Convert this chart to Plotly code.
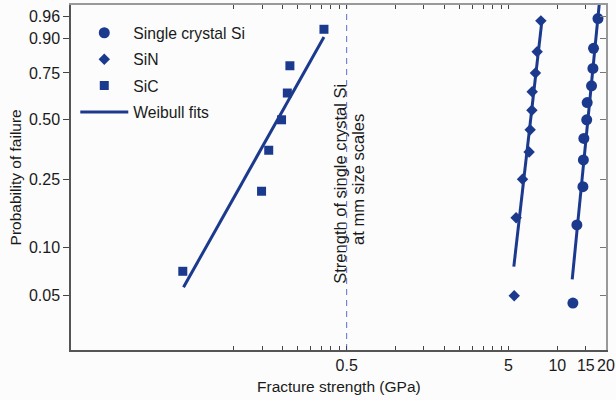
import numpy as np
import plotly.graph_objects as go

# ---------------- data ----------------
si_strength = [12.49, 13.22, 14.40, 14.50, 14.60, 15.20, 15.30, 16.28, 16.61, 16.75, 17.84]
si_prob = [0.045, 0.136, 0.227, 0.318, 0.409, 0.500, 0.591, 0.682, 0.773, 0.864, 0.955]

sin_strength = [5.42, 5.57, 6.10, 6.70, 6.80, 6.97, 7.00, 7.33, 7.51, 7.92]
sin_prob = [0.05, 0.15, 0.25, 0.35, 0.45, 0.55, 0.65, 0.75, 0.85, 0.95]

sic_strength = [0.0486, 0.149, 0.165, 0.198, 0.215, 0.223, 0.362]
sic_prob = [0.071, 0.214, 0.357, 0.500, 0.643, 0.786, 0.929]

# Weibull fit line end points (strength, probability)
fit_si_strength = [12.37, 18.16]
fit_si_prob = [0.0633, 0.978]
fit_sin_strength = [5.39, 8.03]
fit_sin_prob = [0.0759, 0.949]
fit_sic_strength = [0.0491, 0.362]
fit_sic_prob = [0.0565, 0.9055]

mm_scale_strength = 0.5

y_tick_probs = [0.05, 0.10, 0.25, 0.50, 0.75, 0.90, 0.96]
y_tick_labels = ["0.05", "0.10", "0.25", "0.50", "0.75", "0.90", "0.96"]

x_tick_vals = [0.1, 0.15, 0.2, 0.25, 0.3, 0.35, 0.4, 0.45, 0.5,
               1, 1.5, 2, 2.5, 3, 3.5, 4, 4.5, 5, 10, 15, 20]
x_labelled = {0.5: "0.5", 5: "5", 10: "10", 15: "15", 20: "20"}

# ---------------- helpers ----------------
def weib(p):
    p = np.asarray(p, dtype=float)
    return np.log(-np.log(1.0 - p))

y_range = [-3.773, 1.332]
x_range = [np.log10(0.00991), np.log10(20.0)]

navy = "#1b3a8e"
font_family = "Liberation Sans, Arial, Helvetica, sans-serif"
txt = "#1a1a1a"

fig = go.Figure()

# markers
fig.add_trace(go.Scatter(x=si_strength, y=weib(si_prob), mode="markers",
                         name="Single crystal Si", legendgroup="a",
                         marker=dict(symbol="circle", size=11, color=navy,
                                     line=dict(width=0))))
fig.add_trace(go.Scatter(x=sin_strength, y=weib(sin_prob), mode="markers",
                         name="SiN", legendgroup="b",
                         marker=dict(symbol="diamond", size=8.8, color=navy,
                                     line=dict(width=0))))
fig.add_trace(go.Scatter(x=sic_strength, y=weib(sic_prob), mode="markers",
                         name="SiC", legendgroup="c",
                         marker=dict(symbol="square", size=9, color=navy,
                                     line=dict(width=0))))

# fit lines
fig.add_trace(go.Scatter(x=fit_si_strength, y=weib(fit_si_prob), mode="lines",
                         name="Weibull fits", legendgroup="d",
                         line=dict(color=navy, width=3)))
fig.add_trace(go.Scatter(x=fit_sin_strength, y=weib(fit_sin_prob), mode="lines",
                         showlegend=False, legendgroup="d",
                         line=dict(color=navy, width=3)))
fig.add_trace(go.Scatter(x=fit_sic_strength, y=weib(fit_sic_prob), mode="lines",
                         showlegend=False, legendgroup="d",
                         line=dict(color=navy, width=3)))

# dashed reference line
fig.add_trace(go.Scatter(x=[mm_scale_strength, mm_scale_strength], y=y_range,
                         mode="lines", showlegend=False,
                         line=dict(color="#5b6fcf", width=1, dash="6px,5px")))

ann_font = dict(family=font_family, size=16.5, color=txt)
fig.add_annotation(x=np.log10(mm_scale_strength), xref="x", xshift=-7,
                   y=0.481, yref="paper", text="Strength of single crystal Si",
                   textangle=-90, showarrow=False, font=ann_font)
fig.add_annotation(x=np.log10(mm_scale_strength), xref="x", xshift=12,
                   y=0.495, yref="paper", text="at mm size scales",
                   textangle=-90, showarrow=False, font=ann_font)

# axis titles
fig.add_annotation(x=0.5, xref="paper", y=-0.107, yref="paper",
                   text="Fracture strength (GPa)", showarrow=False,
                   xanchor="center", yanchor="middle",
                   font=dict(family=font_family, size=15.5, color=txt))
fig.add_annotation(x=-0.103, xref="paper", y=0.5, yref="paper",
                   text="Probability of failure", showarrow=False,
                   textangle=-90, xanchor="center", yanchor="middle",
                   font=dict(family=font_family, size=15.5, color=txt))

x_ticktext = [x_labelled.get(v, "") for v in x_tick_vals]

fig.update_layout(
    width=616, height=400,
    margin=dict(l=71, r=10, t=5, b=50, autoexpand=False),
    paper_bgcolor="#fcfcfc", plot_bgcolor="#fcfcfc",
    font=dict(family=font_family, size=16, color=txt),
    showlegend=True,
    legend=dict(x=0.008, y=0.968, xanchor="left", yanchor="top",
                bgcolor="rgba(0,0,0,0)", borderwidth=0,
                font=dict(size=15.7), itemwidth=48,
                traceorder="grouped", tracegroupgap=3),
    xaxis=dict(type="log", range=x_range, tickmode="array",
               tickvals=x_tick_vals, ticktext=x_ticktext,
               ticks="inside", ticklen=4, tickcolor="#444444", tickwidth=1,
               showline=True, linecolor="#555555", linewidth=1.5,
               showgrid=False, zeroline=False, automargin=False),
    xaxis2=dict(type="log", range=x_range, overlaying="x", side="top",
                tickmode="array", tickvals=x_tick_vals, showticklabels=False,
                ticks="inside", ticklen=4, tickcolor="#444444",
                showline=True, linecolor="#999999", linewidth=1.5,
                showgrid=False, zeroline=False, automargin=False),
    yaxis=dict(range=y_range, tickmode="array",
               tickvals=list(weib(y_tick_probs)), ticktext=y_tick_labels,
               ticks="outside", ticklen=6, tickcolor="#444444",
               showline=True, linecolor="#555555", linewidth=1.5,
               showgrid=False, zeroline=False, automargin=False),
    yaxis2=dict(range=y_range, overlaying="y", side="right",
                tickmode="array", tickvals=list(weib(y_tick_probs)),
                showticklabels=False, ticks="inside", ticklen=6,
                tickcolor="#777777",
                showline=True, linecolor="#999999", linewidth=1.5,
                showgrid=False, zeroline=False, automargin=False),
)

# invisible anchor trace so the secondary axes are drawn
fig.add_trace(go.Scatter(x=[1], y=[0], xaxis="x2", yaxis="y2", mode="markers",
                         marker=dict(opacity=0), showlegend=False,
                         hoverinfo="skip"))

fig.write_html("out.html",
               config={"displayModeBar": False},
               post_script="document.body.style.margin='0';"
                           "document.body.style.background='#fcfcfc';")
